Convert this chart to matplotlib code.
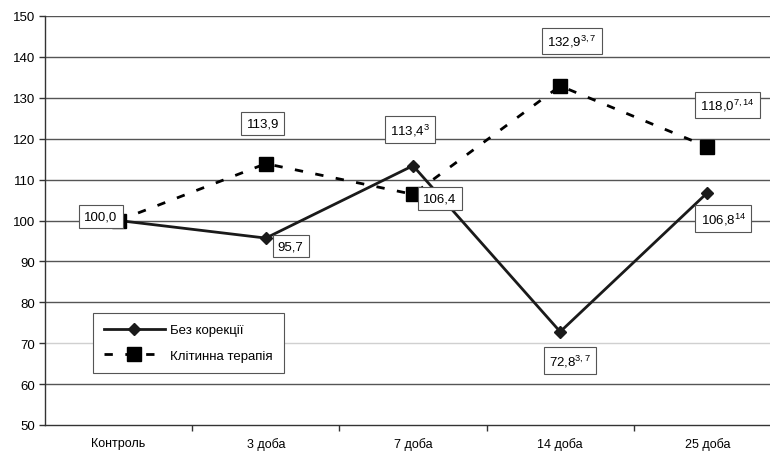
import matplotlib
matplotlib.use("Agg")
import matplotlib.pyplot as plt

plt.rcParams['font.family'] = ['Liberation Sans', 'DejaVu Sans']
plt.rcParams['mathtext.fontset'] = 'custom'
plt.rcParams['mathtext.rm'] = 'Liberation Sans'

# Дані
categories = ["Контроль", "3 доба", "7 доба", "14 доба", "25 доба"]
bez_korektsii = [100.0, 95.7, 113.4, 72.8, 106.8]
klitynna = [100.0, 113.9, 106.4, 132.9, 118.0]

labels_bez = ["", r"95,7", r"113,4$\mathregular{^{3}}$",
              r"72,8$\mathregular{^{3,7}}$", r"106,8$\mathregular{^{14}}$"]
labels_klit = [r"100,0", r"113,9", r"106,4",
               r"132,9$\mathregular{^{3,7}}$", r"118,0$\mathregular{^{7,14}}$"]

# зсуви підписів (пікселі): (dx, dy, ha)
offs_bez = [(0, 0, 'center'), (12, -8, 'left'), (-3, 36, 'center'),
            (10, -29, 'center'), (16, -26, 'center')]
offs_klit = [(-1, 4, 'right'), (-3, 40, 'center'), (10, -4, 'left'),
             (12, 45, 'center'), (20, 42, 'center')]

fig = plt.figure(figsize=(7.7, 4.52), dpi=100)
ax = fig.add_axes([45 / 770, 26 / 452, 736 / 770, 409 / 452])

x = list(range(len(categories)))

# сітка
for v in range(60, 151, 10):
    ax.axhline(v, color='#d0d0d0' if v == 70 else '#555555', lw=1, zorder=0)

ax.plot(x, bez_korektsii, color='#1a1a1a', lw=2, marker='D', ms=6.5,
        label="Без корекції", zorder=3)
ax.plot(x, klitynna, color='#000000', lw=2, ls=(0, (3, 4.5)), marker='s', ms=9.5,
        label="Клітинна терапія", zorder=3)

box = dict(boxstyle='square,pad=0.4', fc='white', ec='#555555', lw=0.8)
for i in range(len(categories)):
    if labels_bez[i]:
        dx, dy, ha = offs_bez[i]
        ax.annotate(labels_bez[i], (x[i], bez_korektsii[i]), xytext=(dx, dy),
                    textcoords='offset pixels', ha=ha, va='center',
                    fontsize=9.5, bbox=box, zorder=5)
    dx, dy, ha = offs_klit[i]
    ax.annotate(labels_klit[i], (x[i], klitynna[i]), xytext=(dx, dy),
                textcoords='offset pixels', ha=ha, va='center',
                fontsize=9.5, bbox=box, zorder=5)

ax.set_xlim(-0.5, 4.5)
ax.set_ylim(50, 150)
ax.set_yticks(range(50, 151, 10))
ax.set_xticks(x)
ax.set_xticklabels(categories)
ax.set_xticks([0.5, 1.5, 2.5, 3.5], minor=True)
ax.tick_params(axis='x', which='major', length=0, pad=9, labelsize=9)
ax.tick_params(axis='x', which='minor', length=4, width=1, color='#333333')
ax.tick_params(axis='y', length=4, width=1, color='#333333', labelsize=9.5, pad=3)

for s in ['top', 'right']:
    ax.spines[s].set_visible(False)
for s in ['left', 'bottom']:
    ax.spines[s].set_color('#333333')
    ax.spines[s].set_linewidth(1)

leg = ax.legend(loc='upper left', bbox_to_anchor=(0.065, 0.274), borderaxespad=0,
                fontsize=9.5, handlelength=4.6, handletextpad=0.4,
                fancybox=False, framealpha=1, edgecolor='#555555',
                borderpad=0.85, labelspacing=1.0)
leg.get_frame().set_linewidth(0.8)

fig.savefig("out.png", dpi=100)
